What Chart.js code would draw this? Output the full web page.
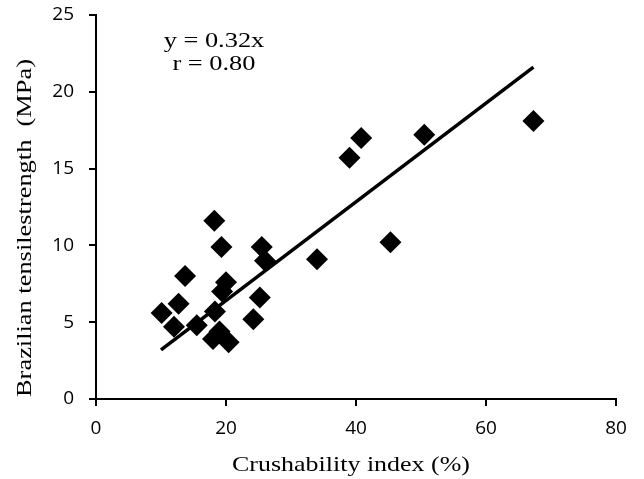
<!DOCTYPE html>
<html>
<head>
<meta charset="utf-8">
<script src="https://cdn.jsdelivr.net/npm/chart.js@4/dist/chart.umd.min.js"></script>
<style>
html,body{margin:0;padding:0;background:#fff;}
#wrap{width:644px;height:479px;position:relative;}
</style>
</head>
<body>
<div id="wrap"><canvas id="c" width="644" height="479"></canvas></div>
<script>
const crushX = [10.1, 12.0, 12.7, 13.7, 15.5, 18.2, 18.3, 18.0, 19.3, 20.0, 19.4, 19.0, 20.4, 24.2, 25.5, 26.0, 25.2, 34.0, 39.0, 40.8, 45.3, 50.5, 67.3];
const strengthY = [5.6, 4.7, 6.2, 8.0, 4.8, 11.6, 5.7, 3.9, 9.9, 7.6, 7.0, 4.4, 3.7, 5.2, 9.9, 9.0, 6.6, 9.1, 15.7, 17.0, 10.2, 17.2, 18.1];
const fitX = [10, 67.3];
const fitY = [3.2, 21.6];
const xTicks = [0, 20, 40, 60, 80];
const yTicks = [0, 5, 10, 15, 20, 25];
const annLines = ["y = 0.32x", "r = 0.80"];
const xTitle = 'Crushability index (%)';
const yTitle = 'Brazilian tensilestrength  (MPa)';

const pts = crushX.map((x, i) => ({x: x, y: strengthY[i]}));
const fit = fitX.map((x, i) => ({x: x, y: fitY[i]}));

const SERIF = '"Liberation Serif", "Times New Roman", serif';
function stretchText(ctx, text, x, y, size, sx, rot) {
  ctx.save();
  ctx.translate(x, y);
  if (rot) ctx.rotate(rot);
  ctx.scale(sx, 1);
  ctx.font = size + 'px ' + SERIF;
  ctx.fillStyle = '#000';
  ctx.textAlign = 'center';
  ctx.textBaseline = 'middle';
  ctx.fillText(text, 0, 0);
  ctx.restore();
}

const annot = {
  id: 'annot',
  afterDraw(chart) {
    const ctx = chart.ctx;
    const xs = chart.scales.x, ys = chart.scales.y;
    stretchText(ctx, annLines[0], xs.getPixelForValue(18.15), ys.getPixelForValue(23.3), 22, 1.2, 0);
    stretchText(ctx, annLines[1], xs.getPixelForValue(18.15), ys.getPixelForValue(21.8), 22, 1.2, 0);
    const ca = chart.chartArea;
    stretchText(ctx, xTitle, (ca.left + ca.right) / 2 - 5, ca.bottom + 66, 22, 1.18, 0);
    stretchText(ctx, yTitle, 25, (ca.top + ca.bottom) / 2 + 21, 22, 1.2, -Math.PI / 2);
  }
};

new Chart(document.getElementById('c'), {
  type: 'scatter',
  data: {
    datasets: [
      {
        type: 'line',
        data: fit,
        borderColor: '#000',
        borderWidth: 3.5,
        pointRadius: 0,
        fill: false,
        order: 2
      },
      {
        data: pts,
        pointStyle: 'rectRot',
        pointRadius: 11,
        pointHoverRadius: 11,
        backgroundColor: '#000',
        borderColor: '#000',
        borderWidth: 0,
        order: 1
      }
    ]
  },
  options: {
    responsive: false,
    animation: false,
    events: [],
    layout: {padding: {top: 15, right: 28, left: 0, bottom: 0}},
    plugins: {legend: {display: false}, tooltip: {enabled: false}},
    scales: {
      x: {
        type: 'linear', min: 0, max: 80,
        afterBuildTicks(s) { s.ticks = xTicks.map(v => ({value: v})); },
        afterFit(s) { s.height = 80; s.paddingLeft = 0; s.paddingRight = 0; },
        border: {color: '#000', width: 2},
        grid: {drawOnChartArea: false, color: '#000', lineWidth: 2, tickLength: 7},
        ticks: {color: '#000', font: {family: '"Open Sans", "Liberation Sans", sans-serif', size: 19, weight: 500}, padding: 11, maxRotation: 0},
        title: {display: false}
      },
      y: {
        type: 'linear', min: 0, max: 25,
        afterBuildTicks(s) { s.ticks = yTicks.map(v => ({value: v})); },
        afterFit(s) { s.width = 96; s.paddingTop = 0; s.paddingBottom = 0; },
        border: {color: '#000', width: 2},
        grid: {drawOnChartArea: false, color: '#000', lineWidth: 2, tickLength: 7},
        ticks: {color: '#000', font: {family: '"Open Sans", "Liberation Sans", sans-serif', size: 19, weight: 500}, padding: 15},
        title: {display: false}
      }
    }
  },
  plugins: [annot]
});
</script>
</body>
</html>
